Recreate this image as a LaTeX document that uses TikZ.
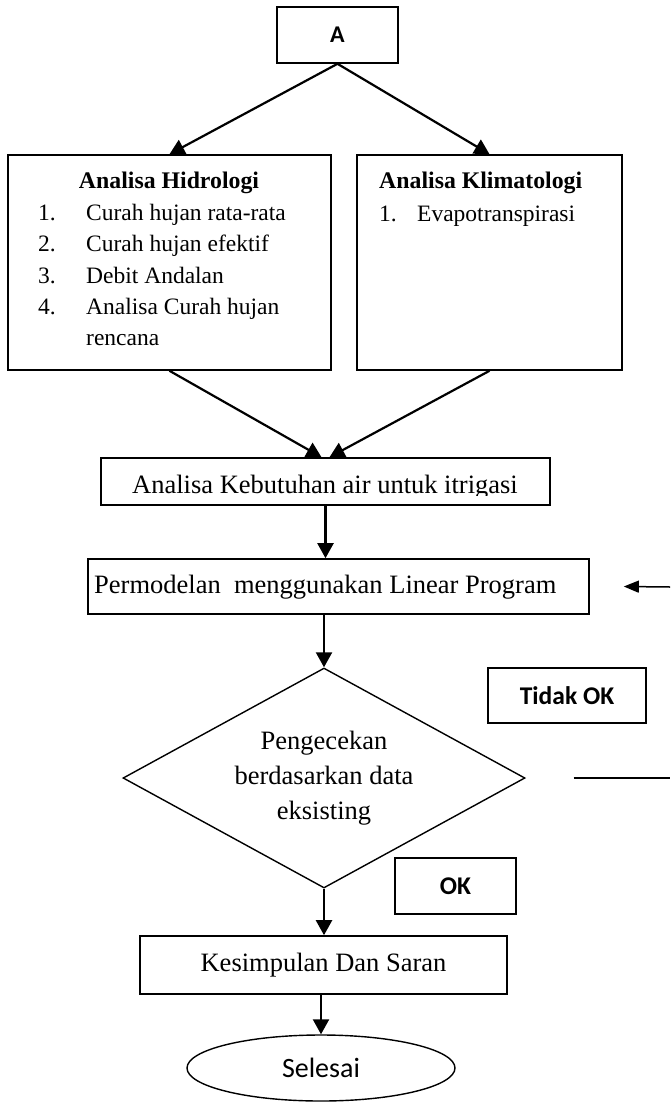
\documentclass[tikz,border=0pt]{standalone}
\usepackage{fontspec}
\setmainfont{Liberation Serif}
\newfontfamily\calfnt{Carlito}
\usetikzlibrary{arrows.meta,shapes.geometric,calc}
\begin{document}
\begin{tikzpicture}[x=1pt,y=-1pt,
  box/.style={draw, line width=1.6pt, rectangle, inner sep=0pt},
  arr/.style={line width=2.2pt, -{Triangle[length=15pt,width=16pt]}},
  thinarr/.style={line width=1.5pt, -{Triangle[length=15pt,width=12pt]}},
  serifA/.style={font=\fontsize{23.5}{31}\selectfont, inner sep=0pt},
  serifAb/.style={font=\fontsize{23.8}{31}\selectfont\bfseries, inner sep=0pt},
  serifB/.style={font=\fontsize{26.5}{35}\selectfont},
  sansbold/.style={font=\calfnt\bfseries\fontsize{#1}{#1}\selectfont},
]
\useasboundingbox (0,0) rectangle (670,1103);

% top box
\node[box, minimum width=121pt, minimum height=56pt, sansbold=24] (A) at (337.5,35) {A};

% analysis boxes
\node[box, minimum width=323pt, minimum height=215pt] (hid) at (169.5,262.5) {};
\node[box, minimum width=265pt, minimum height=215pt] (kli) at (489.5,262.5) {};

\node[serifAb, anchor=base] (hidh) at (169,188) {Analisa Hidrologi};
\node[serifA, anchor=base west] (h1n) at (38,220) {1.};
\node[serifA, anchor=base west] (h1) at (86,220) {Curah hujan rata-rata};
\node[serifA, anchor=base west] (h2n) at (38,251.5) {2.};
\node[serifA, anchor=base west] (h2) at (86,251.5) {Curah hujan efektif};
\node[serifA, anchor=base west] (h3n) at (38,283) {3.};
\node[serifA, anchor=base west] (h3) at (86,283) {Debit Andalan};
\node[serifA, anchor=base west] (h4n) at (38,314) {4.};
\node[serifA, anchor=base west] (h4) at (86,314) {Analisa Curah hujan};
\node[serifA, anchor=base west] (h5) at (86,345) {rencana};

\node[serifAb, anchor=base west] (klih) at (379,188) {Analisa Klimatologi};
\node[serifA, anchor=base west] (k1n) at (379,221) {1.};
\node[serifA, anchor=base west] (k1) at (417,221) {Evapotranspirasi};

% kebutuhan box
\node[box, minimum width=449pt, minimum height=47pt] (keb) at (325.5,481.5) {};
\begin{scope}
\clip (102,459) rectangle (549,495);
\node[serifB, anchor=base, inner sep=0pt] (kebt) at (325,493) {Analisa Kebutuhan air untuk itrigasi};
\end{scope}

% permodelan box
\node[box, minimum width=501pt, minimum height=55pt] (perm) at (338.5,586.5) {};
\node[serifB, anchor=base west, inner sep=0pt] (permt) at (94,593) {Permodelan\ \ menggunakan Linear Program};

% decision
\node[draw, diamond, aspect=2, line width=1.4pt, minimum width=402pt, minimum height=220pt,
      inner sep=0pt, align=center, serifB] (chk) at (324,778)
      {Pengecekan\\berdasarkan data\\eksisting};

\node[box, minimum width=158pt, minimum height=55pt, sansbold=25.5] (tok) at (567,695.5) {Tidak OK};
\node[box, minimum width=121pt, minimum height=56pt, sansbold=25.5] (ok) at (455.5,886) {OK};

% conclusion
\node[box, minimum width=367pt, minimum height=58pt, serifB] (kes) at (323.5,965) {Kesimpulan Dan Saran};
\node[draw, ellipse, line width=1.4pt, minimum width=268pt, minimum height=66pt, inner sep=0pt,
      font=\calfnt\fontsize{28}{34}\selectfont] (sel) at (321,1068) {Selesai};

% connectors
\draw[arr] (A.south) -- (hid.north);
\draw[arr] (A.south) -- (kli.north);
\draw[arr] (hid.south) -- ([xshift=-4pt]keb.north);
\draw[arr] (kli.south) -- ([xshift=4pt]keb.north);
\draw[arr] (keb.south) -- (keb.south |- perm.north);
\draw[arr] (chk.north |- perm.south) -- (chk.north);
\draw[arr] (chk.south) -- (chk.south |- kes.north);
\draw[arr] (sel.north |- kes.south) -- (sel.north);

\coordinate (fbin) at (670,587);
\coordinate (fbout) at (670,778);
\draw[thinarr] (fbin) -- ([xshift=34pt]perm.east);
\draw[line width=1.4pt] ([xshift=48pt]chk.east) -- (fbout);
\end{tikzpicture}
\end{document}
